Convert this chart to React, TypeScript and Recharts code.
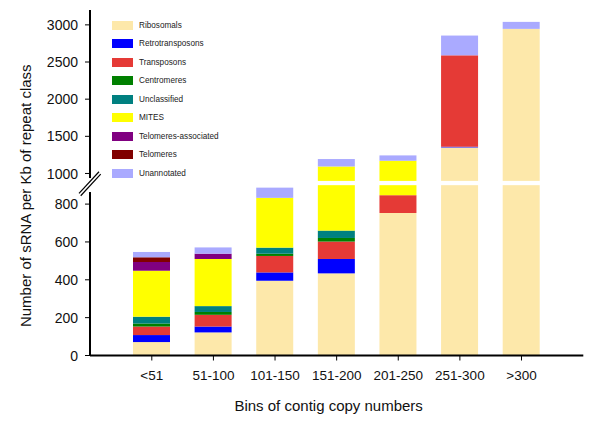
import { BarChart, Bar, XAxis, YAxis, Legend } from 'recharts'

// contig copy-number bins
const categories = ['<51', '51-100', '101-150', '151-200', '201-250', '251-300', '>300']

// sRNA per Kb, per repeat class
const ribosomals = [71, 122, 395, 434, 753, 1350, 2946]
const retrotransposons = [37, 31, 44, 76, 0, 10, 0]
const transposons = [45, 62, 87, 92, 94, 1230, 0]
const centromeres = [16, 15, 12, 19, 0, 0, 0]
const unclassified = [36, 31, 32, 39, 0, 0, 0]
const mites = [243, 249, 263, 434, 324, 0, 0]
const telomeresAssociated = [46, 28, 0, 0, 0, 0, 0]
const telomeres = [25, 0, 0, 0, 0, 0, 0]
const unannotated = [28, 33, 54, 100, 72, 266, 94]

const yTickValues = [0, 200, 400, 600, 800, 1000, 1500, 2000, 2500, 3000]

const series = [
  { key: 'ribosomals', name: 'Ribosomals', color: '#fde8aa', values: ribosomals },
  { key: 'retrotransposons', name: 'Retrotransposons', color: '#0000ff', values: retrotransposons },
  { key: 'transposons', name: 'Transposons', color: '#e53a36', values: transposons },
  { key: 'centromeres', name: 'Centromeres', color: '#008000', values: centromeres },
  { key: 'unclassified', name: 'Unclassified', color: '#008080', values: unclassified },
  { key: 'mites', name: 'MITES', color: '#ffff00', values: mites },
  { key: 'telomeresAssociated', name: 'Telomeres-associated', color: '#800080', values: telomeresAssociated },
  { key: 'telomeres', name: 'Telomeres', color: '#800000', values: telomeres },
  { key: 'unannotated', name: 'Unannotated', color: '#aaaaff', values: unannotated },
]

// broken axis: 0-900 at full scale, then a small gap, then a compressed upper part
const BREAK = 900
const GAP = 22.6
const RATIO = 0.3926
const Y_MAX = 3200

const toAxis = (v: number) => (v <= BREAK ? v : BREAK + GAP + (v - BREAK) * RATIO)
const gapMid = BREAK + GAP / 2

const chartData = categories.map((bin, i) => {
  const row: Record<string, any> = { bin }
  let cum = 0
  series.forEach(s => {
    const lo = cum
    const hi = cum + s.values[i]
    cum = hi
    row[s.key] = toAxis(hi) - toAxis(lo)
    row[s.key + 'Lo'] = toAxis(lo)
    row[s.key + 'Hi'] = toAxis(hi)
  })
  return row
})

const axisTicks = [...yTickValues.map(toAxis), gapMid].sort((a, b) => a - b)

// draws the segment, leaving the white band where the axis is broken
const splitShape = (key: string) => (props: any) => {
  const { x, y, width, height, fill, payload } = props
  if (!height || height <= 0) return <g />
  const lo = payload[key + 'Lo']
  const hi = payload[key + 'Hi']
  const gapLo = BREAK
  const gapHi = BREAK + GAP
  if (lo < gapHi && hi > gapLo) {
    const pxPer = height / (hi - lo)
    const yTop = y + Math.max(0, hi - gapHi) * pxPer
    const yBot = y + (hi - gapLo) * pxPer
    return (
      <g>
        {hi > gapHi && <rect x={x} y={y} width={width} height={yTop - y} fill={fill} />}
        {lo < gapLo && <rect x={x} y={yBot} width={width} height={y + height - yBot} fill={fill} />}
      </g>
    )
  }
  return <rect x={x} y={y} width={width} height={height} fill={fill} />
}

const YTick = (props: any) => {
  const { x, y, payload } = props
  const v = payload.value
  if (Math.abs(v - gapMid) < 0.01) {
    return (
      <g>
        <rect x={x - 3} y={y - 5} width={6} height={14} fill="#fff" />
        <line x1={x - 11} y1={y + 10.3} x2={x + 9} y2={y - 11.3} stroke="#000" strokeWidth={1.2} />
        <line x1={x - 9.3} y1={y + 12.7} x2={x + 10.7} y2={y - 9} stroke="#000" strokeWidth={1.2} />
      </g>
    )
  }
  const raw = yTickValues.find(t => Math.abs(toAxis(t) - v) < 0.01)
  return (
    <g>
      <line x1={x - 5} y1={y} x2={x} y2={y} stroke="#000" strokeWidth={1} />
      <text x={x - 12} y={y} dy="0.36em" textAnchor="end" fontSize={14} fill="#111">
        {raw}
      </text>
    </g>
  )
}

const LegendBox = () => (
  <div style={{ display: 'flex', flexDirection: 'column' }}>
    {series.map(s => (
      <div key={s.key} style={{ height: 18.5, display: 'flex', alignItems: 'center' }}>
        <span style={{ display: 'inline-block', width: 21, height: 9, background: s.color, marginRight: 6 }} />
        <span style={{ fontSize: 8.2, color: '#222', whiteSpace: 'nowrap' }}>{s.name}</span>
      </div>
    ))}
  </div>
)

export default function App() {
  return (
    <div style={{ position: 'absolute', left: 0, top: 0, fontFamily: '"Liberation Sans", Arial, sans-serif' }}>
      <BarChart
        width={600}
        height={424}
        data={chartData}
        margin={{ top: 10, right: 16.7, bottom: 38.5, left: 0 }}
        barSize={37}
      >
        <XAxis
          dataKey="bin"
          padding={{ left: 31, right: 31 }}
          height={30}
          tickSize={5}
          tickMargin={10}
          axisLine={{ stroke: '#000', strokeWidth: 2 }}
          tickLine={{ stroke: '#000' }}
          tick={{ fontSize: 13.5, fill: '#111' }}
          label={(p: any) => (
            <text
              x={p.viewBox.x + p.viewBox.width / 2 - 8}
              y={p.viewBox.y + 50}
              textAnchor="middle"
              dominantBaseline="central"
              fontSize={15}
              fill="#111"
            >
              Bins of contig copy numbers
            </text>
          )}
        />
        <YAxis
          type="number"
          width={90}
          domain={[0, toAxis(Y_MAX)]}
          ticks={axisTicks}
          interval={0}
          tickSize={0}
          tickMargin={0}
          tickLine={false}
          allowDataOverflow
          axisLine={{ stroke: '#000', strokeWidth: 2 }}
          tick={YTick}
          label={(p: any) => (
            <text
              transform={`translate(${p.viewBox.x + 25}, ${p.viewBox.y + p.viewBox.height / 2 + 13}) rotate(-90)`}
              textAnchor="middle"
              dominantBaseline="central"
              fontSize={15}
              fill="#111"
            >
              Number of sRNA per Kb of repeat class
            </text>
          )}
        />
        <Legend
          layout="vertical"
          align="center"
          verticalAlign="middle"
          wrapperStyle={{ left: 112, top: 16, width: 160 }}
          content={<LegendBox />}
        />
        {series.map(s => (
          <Bar
            key={s.key}
            dataKey={s.key}
            name={s.name}
            stackId="a"
            fill={s.color}
            shape={splitShape(s.key)}
            isAnimationActive={false}
          />
        ))}
      </BarChart>
    </div>
  )
}
